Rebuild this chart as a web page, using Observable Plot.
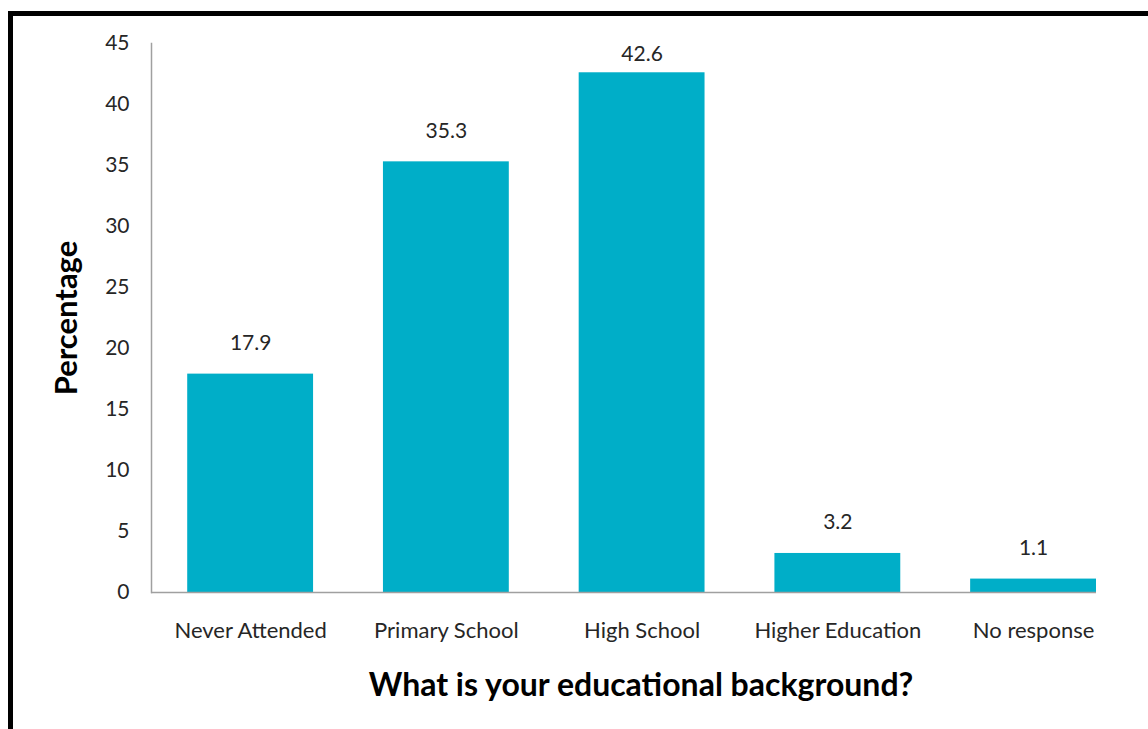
<!DOCTYPE html>
<html>
<head>
<meta charset="utf-8">
<script src="https://cdn.jsdelivr.net/npm/d3@7"></script>
<script src="https://cdn.jsdelivr.net/npm/@observablehq/plot@0.6"></script>
<style>
  html, body { margin: 0; padding: 0; background: #fff; }
  #wrap { position: relative; width: 1148px; height: 729px; overflow: hidden; }
  #border { position: absolute; left: 8px; top: 11px; width: 1200px; height: 800px;
            border-top: 5px solid #000; border-left: 5px solid #000; pointer-events: none; }
  #chart svg { display: block; }
</style>
</head>
<body>
<div id="wrap">
  <div id="chart"></div>
  <div id="border"></div>
</div>
<script>
const categories = ["Never Attended", "Primary School", "High School", "Higher Education", "No response"];
const values = [17.9, 35.3, 42.6, 3.2, 1.1];
const yTicks = [0, 5, 10, 15, 20, 25, 30, 35, 40, 45];
const xTitle = "What is your educational background?";
const yTitle = "Percentage";

const data = categories.map((c, i) => ({category: c, value: values[i]}));
const font = "Lato, 'Open Sans', sans-serif";
const yMax = 45;

const chart = Plot.plot({
  width: 1148,
  height: 729,
  marginLeft: 151,
  marginRight: 52,
  marginTop: 43,
  marginBottom: 137,
  style: {fontFamily: font, background: "transparent", color: "#262626"},
  x: {domain: categories, paddingInner: 0.357, paddingOuter: 0.0925, align: 1, round: false, label: null},
  y: {domain: [0, yMax], label: null},
  marks: [
    Plot.barY(data, {x: "category", y: "value", fill: "#00AEC8"}),
    // value labels placed above bars, kept inside the plot area like the original
    Plot.text(data, {x: "category", y: d => Math.min(d.value, yMax - 3.4), text: d => d.value.toFixed(1),
      dy: -31, fontSize: 21, fill: "#262626", fontFamily: font}),
    Plot.axisY({ticks: yTicks, tickSize: 0, tickPadding: 22, fontSize: 21, tickFormat: d => String(d),
      label: null, color: "#262626"}),
    Plot.axisX({tickSize: 0, tickPadding: 30, fontSize: 22, label: null, color: "#262626"}),
    Plot.ruleY([0], {stroke: "#A0A0A0", strokeWidth: 1.5}),
    Plot.frame({anchor: "left", stroke: "#A0A0A0", strokeWidth: 1.5}),
    Plot.text([yTitle], {frameAnchor: "left", rotate: -90, textAnchor: "middle", dx: -84, fontSize: 31,
      fontWeight: "bold", fill: "#000", fontFamily: font}),
    Plot.text([xTitle], {frameAnchor: "bottom", dx: 17, dy: 103, fontSize: 32, fontWeight: "bold",
      fill: "#000", fontFamily: font})
  ]
});
document.getElementById("chart").appendChild(chart);
</script>
</body>
</html>
